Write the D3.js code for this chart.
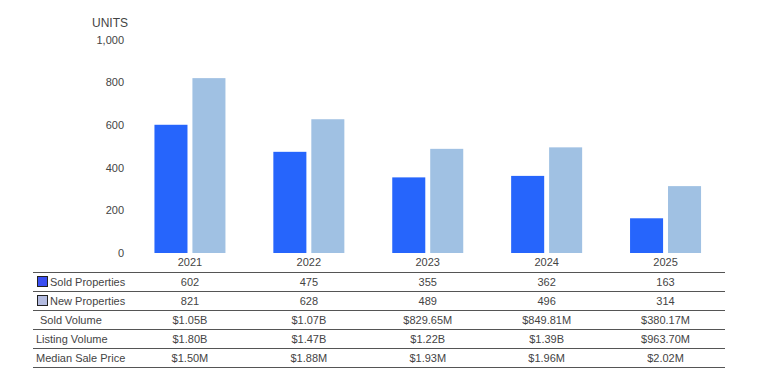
<!DOCTYPE html>
<html>
<head>
<meta charset="utf-8">
<script src="https://cdn.jsdelivr.net/npm/d3@7"></script>
<style>
body { margin: 0; background: #fff; }
svg text { font-family: "Liberation Sans", Arial, sans-serif; fill: #444; font-size: 11px; }
</style>
</head>
<body>
<svg width="766" height="386"></svg>
<script>
const years = ['2021', '2022', '2023', '2024', '2025'];
const soldProps = [602, 475, 355, 362, 163];
const newProps = [821, 628, 489, 496, 314];
const soldVolume = ['$1.05B', '$1.07B', '$829.65M', '$849.81M', '$380.17M'];
const listingVolume = ['$1.80B', '$1.47B', '$1.22B', '$1.39B', '$963.70M'];
const medianPrice = ['$1.50M', '$1.88M', '$1.93M', '$1.96M', '$2.02M'];
const yTicks = [0, 200, 400, 600, 800, 1000];

const soldColor = '#2665fc';
const newColor = '#a0c1e3';

const svg = d3.select('svg');

const x = d3.scaleBand().domain(years).range([130.5, 725]);
const y = d3.scaleLinear().domain([0, 1000]).range([253, 40]);
const inner = d3.scaleBand().domain(['sold', 'new']).range([0, 71]).paddingInner(0.13);

// y axis labels
svg.selectAll('.ytick').data(yTicks).join('text')
    .attr('x', 124)
    .attr('y', d => y(d))
    .attr('dy', '0.35em')
    .attr('text-anchor', 'end')
    .text(d => d3.format(',')(d));

svg.append('text').attr('x', 128).attr('y', 27).attr('text-anchor', 'end')
    .style('font-size', '12px').text('UNITS');

// bars
const groups = svg.selectAll('.grp').data(years).join('g')
    .attr('transform', d => `translate(${x(d) + x.bandwidth() / 2 - 35.5},0)`);

groups.append('rect')
    .attr('x', inner('sold'))
    .attr('width', inner.bandwidth())
    .attr('y', (d, i) => y(soldProps[i]))
    .attr('height', (d, i) => y(0) - y(soldProps[i]))
    .attr('fill', soldColor);

groups.append('rect')
    .attr('x', inner('new'))
    .attr('width', inner.bandwidth())
    .attr('y', (d, i) => y(newProps[i]))
    .attr('height', (d, i) => y(0) - y(newProps[i]))
    .attr('fill', newColor);

// year labels
svg.selectAll('.year').data(years).join('text')
    .attr('x', d => x(d) + x.bandwidth() / 2)
    .attr('y', 266)
    .attr('text-anchor', 'middle')
    .text(d => d);

// table
const rows = [
    { label: 'Sold Properties', vals: soldProps.map(String), swatch: '#3a4ff2' },
    { label: 'New Properties', vals: newProps.map(String), swatch: '#b3bbe0' },
    { label: 'Sold Volume', vals: soldVolume, indent: true },
    { label: 'Listing Volume', vals: listingVolume },
    { label: 'Median Sale Price', vals: medianPrice }
];
const rowTop = 272.5, rowH = 19;

svg.selectAll('.hline').data(d3.range(rows.length + 1)).join('line')
    .attr('x1', 33).attr('x2', 725)
    .attr('y1', i => rowTop + i * rowH)
    .attr('y2', i => rowTop + i * rowH)
    .attr('stroke', '#555').attr('stroke-width', 1);

rows.forEach((r, i) => {
    const cy = rowTop + i * rowH + rowH / 2;
    let tx = 36;
    if (r.swatch) {
        svg.append('rect').attr('x', 37.5).attr('y', cy - 5.5).attr('width', 10).attr('height', 10)
            .attr('fill', r.swatch).attr('stroke', '#222').attr('stroke-width', 1);
        tx = 50;
    } else if (r.indent) {
        tx = 40;
    }
    svg.append('text').attr('x', tx).attr('y', cy).attr('dy', '0.35em').text(r.label);
    svg.selectAll(null).data(r.vals).join('text')
        .attr('x', (d, j) => x(years[j]) + x.bandwidth() / 2)
        .attr('y', cy).attr('dy', '0.35em')
        .attr('text-anchor', 'middle')
        .text(d => d);
});
</script>
</body>
</html>
